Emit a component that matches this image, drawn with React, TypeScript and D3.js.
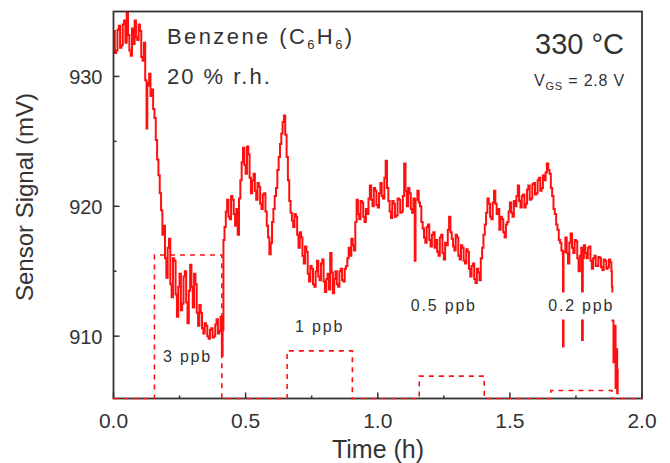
import React from "react";
import * as d3 from "d3";

// signal trace: [time (h), sensor signal (mV)]
const signal: [number, number][] = [
  [0.0, 933.5], [0.005, 931.8], [0.01, 932.0], [0.015, 933.6], [0.02, 933.9], [0.025, 932.2],
  [0.03, 932.4], [0.035, 934.0], [0.04, 934.3], [0.045, 932.6], [0.05, 935.0], [0.055, 933.2],
  [0.06, 932.0], [0.065, 931.6], [0.07, 933.7], [0.075, 932.5], [0.08, 934.3], [0.085, 933.0],
  [0.09, 932.8], [0.095, 934.0], [0.1, 933.5], [0.105, 931.5], [0.11, 931.2], [0.115, 932.6],
  [0.12, 929.7], [0.125, 926.0], [0.128, 929.5], [0.13, 929.3], [0.135, 930.2], [0.14, 928.5],
  [0.145, 929.0], [0.15, 927.5], [0.155, 926.8], [0.16, 925.1], [0.165, 923.6], [0.17, 922.4],
  [0.175, 921.0], [0.18, 919.7], [0.185, 917.8], [0.19, 918.5], [0.195, 916.0], [0.2, 914.5],
  [0.205, 916.8], [0.21, 917.5], [0.215, 914.0], [0.22, 913.0], [0.225, 916.0], [0.23, 915.8],
  [0.235, 913.2], [0.24, 911.5], [0.245, 913.8], [0.25, 914.8], [0.255, 912.0], [0.26, 912.5],
  [0.265, 914.6], [0.27, 915.0], [0.275, 912.6], [0.28, 911.0], [0.285, 913.5], [0.29, 915.5],
  [0.295, 913.8], [0.3, 912.2], [0.305, 914.8], [0.31, 914.0], [0.315, 911.8], [0.32, 910.8],
  [0.325, 912.4], [0.33, 911.8], [0.335, 910.6], [0.34, 910.2], [0.345, 911.0], [0.35, 910.8],
  [0.355, 910.0], [0.36, 909.8], [0.365, 910.5], [0.37, 910.6], [0.375, 909.9], [0.38, 910.0],
  [0.385, 910.9], [0.39, 911.3], [0.395, 910.2], [0.4, 910.4], [0.405, 911.5], [0.41, 908.5],
  [0.413, 910.5], [0.416, 917.4], [0.42, 918.4], [0.425, 919.6], [0.43, 920.5], [0.435, 919.2],
  [0.44, 919.0], [0.445, 920.8], [0.45, 920.5], [0.455, 919.4], [0.46, 918.5], [0.465, 919.8],
  [0.47, 917.8], [0.475, 920.6], [0.48, 922.0], [0.485, 923.4], [0.49, 924.5], [0.495, 923.2],
  [0.5, 922.5], [0.505, 924.6], [0.51, 924.0], [0.515, 922.2], [0.52, 921.0], [0.525, 922.0],
  [0.53, 922.5], [0.535, 921.2], [0.54, 920.5], [0.545, 921.8], [0.55, 921.5], [0.555, 920.2],
  [0.56, 919.8], [0.565, 920.9], [0.57, 921.0], [0.575, 919.6], [0.58, 918.5], [0.585, 917.6],
  [0.59, 916.3], [0.595, 917.2], [0.6, 918.8], [0.605, 919.8], [0.61, 920.8], [0.615, 921.4],
  [0.62, 922.8], [0.625, 923.8], [0.63, 924.8], [0.635, 925.6], [0.64, 926.5], [0.645, 927.0],
  [0.65, 925.5], [0.655, 923.8], [0.66, 922.0], [0.665, 920.4], [0.67, 919.5], [0.675, 918.9],
  [0.68, 918.4], [0.685, 919.4], [0.69, 919.2], [0.695, 917.8], [0.7, 916.8], [0.705, 918.0],
  [0.71, 917.6], [0.715, 916.2], [0.72, 915.6], [0.725, 916.9], [0.73, 916.5], [0.735, 914.8],
  [0.74, 914.2], [0.745, 915.4], [0.75, 915.2], [0.755, 914.0], [0.76, 913.8], [0.765, 915.0],
  [0.77, 915.8], [0.775, 914.6], [0.78, 914.3], [0.785, 915.6], [0.79, 915.9], [0.795, 914.2],
  [0.8, 913.4], [0.805, 914.4], [0.81, 914.8], [0.815, 913.6], [0.82, 916.4], [0.825, 914.9],
  [0.83, 913.3], [0.835, 914.4], [0.84, 915.0], [0.845, 914.0], [0.85, 913.8], [0.855, 915.0],
  [0.86, 915.2], [0.865, 914.3], [0.87, 914.2], [0.875, 915.2], [0.88, 915.4], [0.885, 916.0],
  [0.89, 916.8], [0.895, 916.2], [0.9, 917.5], [0.905, 917.0], [0.91, 916.6], [0.915, 918.8],
  [0.92, 920.5], [0.925, 919.4], [0.93, 919.0], [0.935, 920.4], [0.94, 920.3], [0.945, 919.2],
  [0.95, 918.8], [0.955, 919.8], [0.96, 919.4], [0.965, 920.6], [0.97, 921.6], [0.975, 920.5],
  [0.98, 920.0], [0.985, 921.4], [0.99, 921.2], [0.995, 920.1], [1.0, 919.9], [1.005, 921.0],
  [1.01, 921.8], [1.015, 920.8], [1.02, 920.6], [1.025, 922.2], [1.03, 923.5], [1.035, 921.4],
  [1.04, 920.4], [1.045, 919.6], [1.05, 919.1], [1.055, 920.4], [1.06, 920.2], [1.065, 919.2],
  [1.07, 919.3], [1.075, 920.6], [1.08, 920.5], [1.085, 919.5], [1.09, 919.6], [1.095, 920.8],
  [1.1, 923.3], [1.105, 921.2], [1.11, 920.0], [1.115, 921.4], [1.12, 921.0], [1.125, 919.8],
  [1.13, 919.5], [1.135, 920.6], [1.14, 915.8], [1.143, 920.5], [1.15, 921.2], [1.155, 920.3],
  [1.16, 920.0], [1.165, 918.8], [1.17, 918.3], [1.175, 917.6], [1.18, 917.2], [1.185, 918.4],
  [1.19, 918.6], [1.195, 917.4], [1.2, 916.9], [1.205, 917.8], [1.21, 918.0], [1.215, 916.8],
  [1.22, 917.4], [1.225, 916.5], [1.23, 916.2], [1.235, 917.6], [1.24, 917.8], [1.245, 916.4],
  [1.25, 915.9], [1.255, 917.2], [1.26, 917.0], [1.265, 918.2], [1.27, 919.2], [1.275, 918.0],
  [1.28, 917.5], [1.285, 916.9], [1.29, 916.6], [1.295, 917.8], [1.3, 917.6], [1.305, 916.2],
  [1.31, 915.9], [1.315, 917.0], [1.32, 916.8], [1.325, 915.8], [1.33, 915.6], [1.335, 916.7],
  [1.34, 916.5], [1.345, 915.2], [1.35, 914.6], [1.355, 915.4], [1.36, 915.6], [1.365, 914.4],
  [1.37, 914.1], [1.375, 915.2], [1.38, 914.9], [1.385, 914.3], [1.39, 916.0], [1.395, 916.8],
  [1.4, 917.8], [1.405, 918.6], [1.41, 919.5], [1.415, 920.6], [1.42, 920.2], [1.425, 919.2],
  [1.43, 919.0], [1.435, 920.3], [1.44, 921.2], [1.445, 920.2], [1.45, 919.4], [1.455, 919.8],
  [1.46, 918.2], [1.465, 919.2], [1.47, 919.0], [1.475, 918.0], [1.48, 917.6], [1.485, 918.6],
  [1.49, 918.8], [1.495, 919.6], [1.5, 920.3], [1.505, 919.5], [1.51, 919.2], [1.515, 920.4],
  [1.52, 920.0], [1.525, 920.8], [1.53, 921.6], [1.535, 920.4], [1.54, 919.9], [1.545, 920.8],
  [1.55, 920.9], [1.555, 919.9], [1.56, 920.2], [1.565, 921.3], [1.57, 921.6], [1.575, 920.5],
  [1.58, 920.6], [1.585, 921.7], [1.59, 921.8], [1.595, 920.9], [1.6, 921.0], [1.605, 922.0],
  [1.61, 922.2], [1.615, 921.2], [1.62, 921.4], [1.625, 922.4], [1.63, 922.0], [1.635, 922.6],
  [1.64, 923.3], [1.645, 922.8], [1.65, 922.5], [1.655, 921.4], [1.66, 920.8], [1.665, 919.8],
  [1.67, 919.4], [1.675, 918.6], [1.68, 918.2], [1.685, 917.4], [1.69, 917.2], [1.695, 916.6],
  [1.7, 916.3], [1.701, 909.2], [1.703, 916.5], [1.71, 917.6], [1.715, 916.4], [1.72, 915.6],
  [1.725, 917.2], [1.73, 917.9], [1.735, 916.8], [1.74, 916.4], [1.745, 917.4], [1.75, 917.3],
  [1.755, 916.0], [1.76, 915.0], [1.765, 916.2], [1.77, 916.8], [1.773, 909.7], [1.776, 916.0],
  [1.78, 917.0], [1.785, 916.4], [1.79, 916.0], [1.795, 916.8], [1.8, 916.9], [1.805, 915.8],
  [1.81, 915.2], [1.815, 916.0], [1.82, 916.2], [1.825, 915.4], [1.83, 915.4], [1.835, 916.1],
  [1.84, 916.0], [1.845, 915.3], [1.85, 915.1], [1.855, 915.9], [1.86, 915.8], [1.865, 915.2],
  [1.87, 915.3], [1.875, 915.9], [1.88, 915.7], [1.884, 915.0], [1.886, 913.8], [1.888, 911.2],
  [1.892, 908.0], [1.895, 910.8], [1.9, 906.0], [1.903, 909.0], [1.906, 905.6], [1.908, 907.5],
];

// benzene dosing profile (dashed): switch times and levels on the mV axis
const stimTimes = [0, 0.155, 0.41, 0.657, 0.904, 1.157, 1.403, 1.655, 1.886, 2.0];
const stimLevels = [905.2, 916.25, 905.2, 908.87, 905.2, 906.92, 905.2, 905.82, 905.2, 905.2];

// concentration labels: [text, time, mV]
const doseLabels: [string, number, number][] = [
  ["3 ppb", 0.28, 908.0],
  ["1 ppb", 0.78, 910.3],
  ["0.5 ppb", 1.25, 911.9],
  ["0.2 ppb", 1.77, 911.9],
];

const xTicks = [0, 0.5, 1.0, 1.5, 2.0];
const xMinor = [0.25, 0.75, 1.25, 1.75];
const yTicks = [910, 920, 930];
const yMinor = [915, 925];

const W = 670;
const H = 463;
const margin = { top: 11.5, right: 28, bottom: 64.5, left: 113.5 };
const font = "'Liberation Sans', Arial, sans-serif";
const red = "#ff1010";
const ink = "#333";

export default function App() {
  const x = d3.scaleLinear().domain([0, 2]).range([margin.left, W - margin.right]);
  const y = d3.scaleLinear().domain([905.2, 935]).range([H - margin.bottom, margin.top]);

  const line = d3
    .line<[number, number]>()
    .x((d) => x(d[0]))
    .y((d) => y(d[1]))
    .curve(d3.curveStepAfter);

  const stim = d3
    .line<number>()
    .x((_, i) => x(stimTimes[i]))
    .y((d) => y(d))
    .curve(d3.curveStepAfter);

  const x0 = margin.left;
  const x1 = W - margin.right;
  const y0 = H - margin.bottom;
  const y1 = margin.top;

  return (
    <svg
      width={W}
      height={H}
      style={{ position: "absolute", left: 0, top: 0, background: "#fff" }}
      fontFamily={font}
    >
      <defs>
        <clipPath id="plot">
          <rect x={x0} y={y1} width={x1 - x0} height={y0 - y1} />
        </clipPath>
      </defs>

      <g clipPath="url(#plot)">
        <path d={line(signal) || ""} fill="none" stroke={red} strokeWidth={2} />
      </g>

      {/* label boxes hide the trace behind them */}
      {doseLabels.map(([t, tx, v]) => (
        <g key={t}>
          {t === "0.2 ppb" && (
            <rect x={x(tx) - 35} y={y(v) - 19} width={70} height={27} fill="#fff" />
          )}
          <text
            x={x(tx)}
            y={y(v)}
            textAnchor="middle"
            fontSize={16}
            letterSpacing={1.8}
            fill={ink}
          >
            {t}
          </text>
        </g>
      ))}

      {/* frame and ticks */}
      <rect x={x0} y={y1} width={x1 - x0} height={y0 - y1} fill="none" stroke={ink} strokeWidth={1.8} />
      {xTicks.map((t) => (
        <g key={"x" + t}>
          <line x1={x(t)} x2={x(t)} y1={y0} y2={y0 - 6} stroke={ink} strokeWidth={1.5} />
          <text x={x(t)} y={y0 + 29} textAnchor="middle" fontSize={21} fill={ink}>
            {t.toFixed(1)}
          </text>
        </g>
      ))}
      {xMinor.map((t) => (
        <line key={"xm" + t} x1={x(t)} x2={x(t)} y1={y0} y2={y0 - 3} stroke={ink} strokeWidth={1.5} />
      ))}
      {yTicks.map((v) => (
        <g key={"y" + v}>
          <line x1={x0} x2={x0 + 6} y1={y(v)} y2={y(v)} stroke={ink} strokeWidth={1.5} />
          <text x={x0 - 11} y={y(v) + 7.5} textAnchor="end" fontSize={20} fill={ink}>
            {v}
          </text>
        </g>
      ))}
      {yMinor.map((v) => (
        <line key={"ym" + v} x1={x0} x2={x0 + 3} y1={y(v)} y2={y(v)} stroke={ink} strokeWidth={1.5} />
      ))}

      {/* dosing profile drawn over the axis */}
      <path
        d={stim(stimLevels) || ""}
        fill="none"
        stroke={red}
        strokeWidth={1.6}
        strokeDasharray="5,5"
      />

      {/* axis titles */}
      <text x={378} y={458} textAnchor="middle" fontSize={25} fill={ink}>
        Time (h)
      </text>
      <text
        transform="translate(33,197) rotate(-90)"
        textAnchor="middle"
        fontSize={24}
        fill={ink}
      >
        Sensor Signal (mV)
      </text>

      {/* annotations */}
      <text x={167} y={44} fontSize={22} letterSpacing={2.4} fill={ink}>
        Benzene (C<tspan fontSize={13} dy={5}>6</tspan>
        <tspan dy={-5}>H</tspan>
        <tspan fontSize={13} dy={5}>6</tspan>
        <tspan dy={-5}>)</tspan>
      </text>
      <text x={167} y={84} fontSize={22} letterSpacing={2} fill={ink}>
        20 % r.h.
      </text>
      <text x={624} y={54} textAnchor="end" fontSize={29} fill={ink}>
        330 °C
      </text>
      <text x={625} y={86} textAnchor="end" fontSize={16} letterSpacing={0.8} fill={ink}>
        V<tspan fontSize={11} dy={4}>GS</tspan>
        <tspan dy={-4}> = 2.8 V</tspan>
      </text>
    </svg>
  );
}
